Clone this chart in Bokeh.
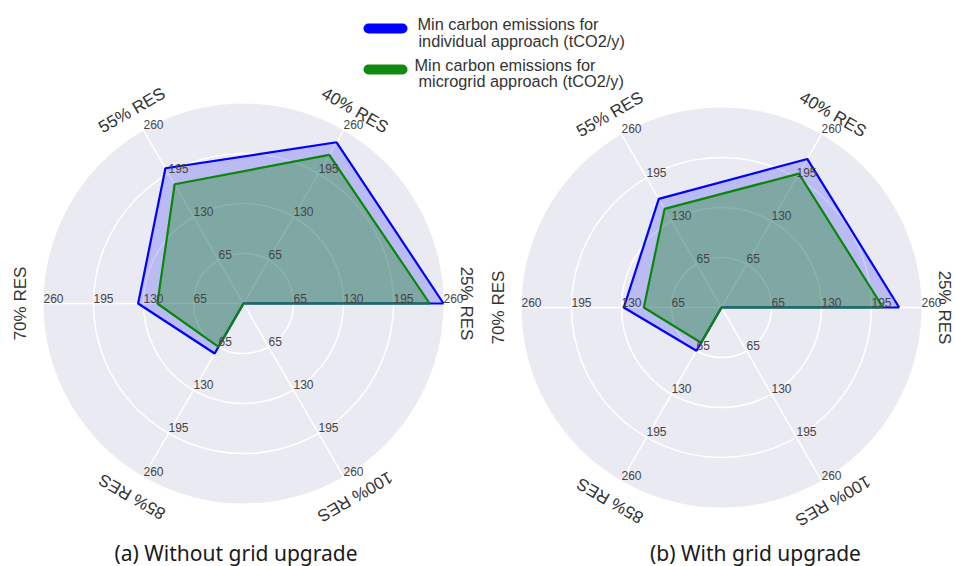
import numpy as np
from bokeh.plotting import figure
from bokeh.models import Range1d
from bokeh.embed import file_html
from bokeh.resources import INLINE
from bokeh.core.properties import value

# ---- data ----
categories = ["25% RES", "40% RES", "55% RES", "70% RES", "85% RES", "100% RES"]
r_ticks = [65, 130, 195, 260]
r_max = 260

a_individual = [260, 242, 203, 137, 75, 0]
a_microgrid = [242, 223, 179, 112, 65, 0]
b_individual = [231, 223, 163, 127, 65, 0]
b_microgrid = [210, 201, 148, 101, 53, 0]

legend_labels = [
    ["Min carbon emissions for", "individual approach (tCO2/y)"],
    ["Min carbon emissions for", "microgrid approach (tCO2/y)"],
]
subtitles = ["(a) Without grid upgrade", "(b) With grid upgrade"]

# ---- layout ----
W, H = 955, 566
def Y(img_y):
    return H - img_y

R_PX = 200.0          # radius of outer disc in px
K = R_PX / r_max      # px per unit
BG = "#EAEAF2"
BLUE = "#0000FF"
GREEN = "#0A860A"
SANS = value("Liberation Sans")

p = figure(width=W, height=H, x_range=Range1d(0, W), y_range=Range1d(0, H),
           x_axis_type=None, y_axis_type=None, toolbar_location=None,
           output_backend="svg", min_border=0, outline_line_color=None,
           background_fill_color="white", border_fill_color="white")
p.grid.visible = False

angles = np.deg2rad(np.arange(len(categories)) * 60.0)

def radar(cx, cy_img, ind, mg, subtitle, sub_x):
    cy = Y(cy_img)
    # background disc
    p.circle(x=[cx], y=[cy], radius=R_PX, fill_color=BG, line_color=None)
    # grid circles
    for t in r_ticks[:-1]:
        p.circle(x=[cx], y=[cy], radius=K * t, fill_color=None,
                 line_color="white", line_width=1.5)
    # spokes
    for a in angles:
        p.line([cx, cx + R_PX * np.cos(a)], [cy, cy + R_PX * np.sin(a)],
               line_color="white", line_width=1.5)
    # polygons
    ind_a = np.array(ind, float)
    mg_a = np.array(mg, float)
    xi = list(cx + K * ind_a * np.cos(angles)); yi = list(cy + K * ind_a * np.sin(angles))
    xm = list(cx + K * mg_a * np.cos(angles)); ym = list(cy + K * mg_a * np.sin(angles))
    p.patch(xi, yi, fill_color=BLUE, fill_alpha=0.2, line_color=None)
    p.patch(xm, ym, fill_color="green", fill_alpha=0.32, line_color=None)
    p.line(xi + xi[:1], yi + yi[:1], line_color=BLUE, line_width=2.2)
    p.line(xm + xm[:1], ym + ym[:1], line_color=GREEN, line_width=2.2)
    # radial tick labels along every spoke
    tx, ty, tt = [], [], []
    for a in angles:
        for t in r_ticks:
            tx.append(cx + K * t * np.cos(a))
            ty.append(cy + K * t * np.sin(a) + 1)
            tt.append(str(t))
    p.text(x=tx, y=ty, text=tt, text_font=SANS, text_font_size="12px",
           text_color="#444444", text_align="left", text_baseline="bottom")
    # category labels
    LR = 223
    lx = list(cx + LR * np.cos(angles))
    ly = list(cy + LR * np.sin(angles))
    la = list(angles - np.pi / 2)
    p.text(x=lx, y=ly, text=categories, angle=la, text_font=SANS,
           text_font_size="17px", text_color="#333333", text_align="center",
           text_baseline="middle")
    # subtitle
    p.text(x=[sub_x], y=[Y(552)], text=[subtitle], text_font=value("Noto Sans"),
           text_font_size="21px", text_color="#1a1a1a", text_align="center",
           text_baseline="middle")

radar(243, 303, a_individual, a_microgrid, subtitles[0], 235.5)
radar(721, 307, b_individual, b_microgrid, subtitles[1], 755)

# legend
for (col, bar_y, lines, xs, bases) in [
    (BLUE, 28, legend_labels[0], [417, 418], [23.3, 40.7]),
    ("#118a11", 69, legend_labels[1], [414, 418], [64, 80.5]),
]:
    p.line([368, 402], [Y(bar_y), Y(bar_y)], line_color=col, line_width=10,
           line_cap="round")
    p.text(x=xs, y=[Y(b) for b in bases], text=lines, text_font=SANS,
           text_font_size="16.3px", text_color="#333333", text_align="left",
           text_baseline="alphabetic")

open("out.html", "w").write(file_html(p, INLINE))
